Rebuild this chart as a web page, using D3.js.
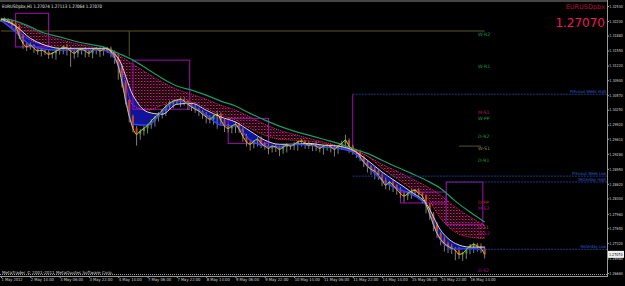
<!DOCTYPE html>
<html>
<head>
<meta charset="utf-8">
<script src="https://cdn.jsdelivr.net/npm/d3@7/dist/d3.min.js"></script>
<style>
  html, body { margin: 0; padding: 0; background: #000; }
  svg { display: block; }
  text { font-family: "DejaVu Sans", Tahoma, sans-serif; }
</style>
</head>
<body>
<svg id="chart" width="625" height="286"></svg>
<script>
// bar index 0 = 1 May 22:00, one label every 16 H1 bars (weekends skipped)
const dateLabels = ["1 May 2012", "2 May 14:00", "3 May 06:00", "3 May 22:00", "4 May 14:00",
  "7 May 06:00", "7 May 22:00", "8 May 14:00", "9 May 06:00", "9 May 22:00", "10 May 14:00",
  "11 May 06:00", "11 May 22:00", "14 May 14:00", "15 May 06:00", "15 May 22:00", "16 May 14:00"];

const priceTicks = [1.3253, 1.3220, 1.3188, 1.3155, 1.3122, 1.3090, 1.3057, 1.3025, 1.2992,
  1.2961, 1.2928, 1.2895, 1.2862, 1.2830, 1.2796, 1.2765, 1.2732, 1.2698, 1.2666];
const priceLabels = ["1.32530", "1.32200", "1.31880", "1.31550", "1.31220", "1.30900", "1.30570",
  "1.30250", "1.29920", "1.29610", "1.29280", "1.28950", "1.28620", "1.28300", "1.27960",
  "1.27650", "1.27320", "1.26980", "1.26660"];

// closes every 2nd bar (bar 0, 2, 4 ... 264)
const closes = [
  1.3222, 1.3224, 1.3220, 1.3215, 1.3209, 1.3187, 1.3171, 1.3163, 1.3167, 1.3160,
  1.3154, 1.3156, 1.3152, 1.3147, 1.3149, 1.3154, 1.3158, 1.3163, 1.3160, 1.3154,
  1.3149, 1.3156, 1.3158, 1.3154, 1.3149, 1.3156, 1.3160, 1.3154, 1.3158, 1.3160,
  1.3152, 1.3141, 1.3121, 1.3086, 1.3046, 1.3011, 1.2984, 1.2971, 1.2978, 1.2984,
  1.2991, 1.3000, 1.3009, 1.3015, 1.3024, 1.3033, 1.3039, 1.3044, 1.3046, 1.3048,
  1.3044, 1.3037, 1.3031, 1.3026, 1.3022, 1.3015, 1.3009, 1.3004, 1.3011, 1.3015,
  1.3002, 1.2989, 1.2984, 1.2989, 1.2993, 1.2982, 1.2967, 1.2954, 1.2949, 1.2956,
  1.2960, 1.2951, 1.2945, 1.2940, 1.2945, 1.2943, 1.2938, 1.2943, 1.2947, 1.2945,
  1.2949, 1.2954, 1.2956, 1.2951, 1.2947, 1.2949, 1.2945, 1.2940, 1.2945, 1.2947,
  1.2943, 1.2938, 1.2945, 1.2951, 1.2958, 1.2945, 1.2936, 1.2932, 1.2921, 1.2910,
  1.2901, 1.2894, 1.2890, 1.2881, 1.2870, 1.2859, 1.2866, 1.2859, 1.2850, 1.2841,
  1.2835, 1.2841, 1.2846, 1.2848, 1.2841, 1.2835, 1.2817, 1.2795, 1.2773, 1.2753,
  1.2740, 1.2731, 1.2725, 1.2720, 1.2716, 1.2707, 1.2709, 1.2718, 1.2725, 1.2729,
  1.2725, 1.2720, 1.2707];
// wick lengths in pips
const wickUp = [
  3, 4, 2, 3, 5, 2, 4, 3, 6, 2, 3, 4, 2, 5, 3, 4, 2, 3, 6, 3,
  4, 2, 3, 5, 2, 4, 3, 2, 5, 3, 4, 3, 8, 4, 3, 2, 3, 5, 4, 6,
  3, 4, 2, 5, 3, 4, 6, 3, 2, 4, 5, 3, 4, 6, 3, 2, 5, 4, 3, 8,
  4, 3, 5, 2, 6, 3, 4, 5, 3, 2, 4, 6, 3, 5, 2, 4, 3, 6, 4, 3,
  5, 3, 4, 2, 6, 3, 5, 4, 3, 2, 4, 5, 3, 6, 12, 4, 3, 2, 5, 3,
  4, 2, 5, 3, 4, 6, 3, 4, 2, 5, 3, 4, 6, 3, 5, 2, 4, 3, 5, 4,
  3, 6, 4, 5, 3, 7, 4, 3, 5, 4, 3, 6, 4];
const wickDown = [
  4, 6, 5, 8, 10, 7, 12, 9, 6, 10, 8, 12, 7, 10, 9, 14, 8, 11, 16, 35,
  12, 9, 10, 14, 8, 11, 9, 13, 10, 8, 12, 15, 30, 12, 10, 14, 9, 25, 12, 10,
  11, 8, 12, 10, 9, 13, 8, 11, 7, 15, 10, 12, 9, 8, 11, 10, 14, 9, 12, 28,
  10, 13, 9, 11, 15, 8, 12, 10, 14, 9, 12, 10, 8, 13, 9, 11, 15, 10, 12, 8,
  9, 14, 10, 12, 8, 13, 11, 9, 14, 10, 12, 16, 10, 8, 12, 15, 10, 13, 9, 11,
  14, 12, 18, 10, 13, 9, 11, 15, 12, 10, 14, 9, 12, 10, 13, 16, 20, 12, 15, 10,
  13, 18, 15, 12, 22, 10, 14, 12, 11, 15, 12, 10, 9];

// moving averages read every 8th bar (bar 0, 8 ... 264)
const maGreen = [1.3226, 1.3220, 1.3207, 1.3193, 1.3185, 1.3176, 1.3169, 1.3163, 1.3149, 1.3134,
  1.3114, 1.3094, 1.3077, 1.3068, 1.3057, 1.3044, 1.3033, 1.3017, 1.3002, 1.2989,
  1.2978, 1.2969, 1.2960, 1.2951, 1.2940, 1.2929, 1.2914, 1.2899, 1.2885, 1.2870,
  1.2852, 1.2824, 1.2800, 1.2778];
const maPinkTop = [1.3224, 1.3218, 1.3204, 1.3189, 1.3180, 1.3171, 1.3165, 1.3156, 1.3145, 1.3125,
  1.3105, 1.3086, 1.3070, 1.3059, 1.3048, 1.3035, 1.3024, 1.3009, 1.2993, 1.2980,
  1.2971, 1.2962, 1.2954, 1.2945, 1.2934, 1.2923, 1.2905, 1.2890, 1.2874, 1.2857,
  1.2837, 1.2811, 1.2789, 1.2771];
const maPinkBottom = [1.3220, 1.3200, 1.3178, 1.3167, 1.3160, 1.3158, 1.3158, 1.3158, 1.3138, 1.3035,
  1.3024, 1.3035, 1.3044, 1.3042, 1.3028, 1.3013, 1.3002, 1.2984, 1.2969, 1.2960,
  1.2958, 1.2956, 1.2951, 1.2945, 1.2938, 1.2923, 1.2896, 1.2874, 1.2852, 1.2835,
  1.2786, 1.2756, 1.2745, 1.2742];
const maWhite = [1.3224, 1.3209, 1.3182, 1.3167, 1.3160, 1.3160, 1.3160, 1.3160, 1.3138, 1.3057,
  1.3020, 1.3015, 1.3037, 1.3039, 1.3024, 1.3009, 1.2998, 1.2978, 1.2958, 1.2949,
  1.2949, 1.2951, 1.2947, 1.2945, 1.2936, 1.2914, 1.2888, 1.2866, 1.2844, 1.2819,
  1.2760, 1.2731, 1.2723, 1.2723];
const maBlue = [1.3222, 1.3196, 1.3167, 1.3158, 1.3156, 1.3156, 1.3156, 1.3156, 1.3123, 1.2993,
  1.2991, 1.3020, 1.3046, 1.3033, 1.3013, 1.2991, 1.2989, 1.2958, 1.2945, 1.2943,
  1.2949, 1.2947, 1.2943, 1.2940, 1.2932, 1.2901, 1.2870, 1.2852, 1.2839, 1.2815,
  1.2738, 1.2718, 1.2720, 1.2716];

// pivot labels: name, price, colour
const pivotNames = ["W-R2", "W-R1", "M-S1", "W-PP", "D-R2", "W-S1", "D-R1", "D-PP", "M-S2", "D-S1", "W-S2", "D-S2"];
const pivotPrices = [1.3191, 1.3121, 1.3020, 1.3006, 1.2967, 1.2940, 1.2914, 1.2822, 1.2808, 1.2766, 1.2753, 1.2672];
const pivotColors = ["#1f9a52", "#1f9a52", "#c0106a", "#1f9a52", "#1f9a52", "#8c8c3c", "#1f9a52",
  "#c03030", "#b01080", "#d04080", "#b01080", "#b01080"];

// level lines from a start bar to the right edge
const levelNames = ["Previous Week High", "Previous Week Low", "Yesterday High", "Yesterday Low"];
const levelPrices = [1.3059, 1.2879, 1.2866, 1.2718];
const levelStart = [192, 192, 243, 243];

// olive lines: start bar, end bar, price from, price to
const oliveX0 = [0, 70, 250];
const oliveX1 = [264, 70, 262];
const oliveP0 = [1.3198, 1.3198, 1.2945];
const oliveP1 = [1.3198, 1.3142, 1.2945];

// magenta range boxes: start bar, end bar, top, bottom
const boxStart = [8, 72, 124, 218, 243];
const boxEnd = [26, 103, 146, 243, 263];
const boxTop = [1.3237, 1.3134, 1.3006, 1.2844, 1.2866];
const boxBottom = [1.3163, 1.3026, 1.2951, 1.2820, 1.2773];
// single magenta marker at the week change: bar, top, bottom
const weekMarkBar = [192];
const weekMarkTop = [1.3059];
const weekMarkBottom = [1.2940];

const lastPrice = 1.2707;

const svg = d3.select("#chart");
const plotRight = 607, plotBottom = 276;

const x = d3.scaleLinear().domain([0, 256]).range([1, 470]);
const y = d3.scaleLinear().domain([1.2666, 1.3253]).range([273, 6]);

const defs = svg.append("defs");
const pat = defs.append("pattern").attr("id", "pinkDots")
  .attr("width", 3).attr("height", 3).attr("patternUnits", "userSpaceOnUse");
pat.append("rect").attr("x", 0).attr("y", 0).attr("width", 1.5).attr("height", 1).attr("fill", "#d8108e");
pat.append("rect").attr("x", 1.5).attr("y", 1.5).attr("width", 1).attr("height", 1).attr("fill", "#d02838");

svg.append("clipPath").attr("id", "plot").append("rect")
  .attr("x", 0).attr("y", 1).attr("width", plotRight).attr("height", plotBottom - 1);
const g = svg.append("g").attr("clip-path", "url(#plot)");

const maBars = maGreen.map((d, i) => i * 8);
const closeBars = closes.map((d, i) => i * 2);

// olive lines
g.selectAll(".olive").data(oliveX0).enter().append("line")
  .attr("x1", d => x(d)).attr("x2", (d, i) => x(oliveX1[i]))
  .attr("y1", (d, i) => y(oliveP0[i])).attr("y2", (d, i) => y(oliveP1[i]))
  .attr("stroke", "#55552a").attr("stroke-width", 1);

// pink ribbon
g.append("path")
  .datum(maBars)
  .attr("fill", "url(#pinkDots)")
  .attr("d", d3.area().curve(d3.curveMonotoneX)
    .x(b => x(b)).y0((b, i) => y(maPinkBottom[i])).y1((b, i) => y(maPinkTop[i])));

// blue ribbon
g.append("path")
  .datum(maBars)
  .attr("fill", "#1418b4").attr("opacity", 0.85)
  .attr("d", d3.area().curve(d3.curveMonotoneX)
    .x(b => x(b)).y0((b, i) => y(maBlue[i])).y1((b, i) => y(maWhite[i])));

// boxes
g.selectAll(".box").data(boxStart).enter().append("rect")
  .attr("x", (d, i) => x(d)).attr("y", (d, i) => y(boxTop[i]))
  .attr("width", (d, i) => x(boxEnd[i]) - x(d))
  .attr("height", (d, i) => y(boxBottom[i]) - y(boxTop[i]))
  .attr("fill", "none").attr("stroke", "#a010b0").attr("stroke-width", 1);
g.selectAll(".wk").data(weekMarkBar).enter().append("line")
  .attr("x1", d => x(d)).attr("x2", d => x(d))
  .attr("y1", (d, i) => y(weekMarkTop[i])).attr("y2", (d, i) => y(weekMarkBottom[i]))
  .attr("stroke", "#a010b0").attr("stroke-width", 1);

// candles
const candles = g.selectAll(".candle").data(closeBars).enter().append("g");
candles.append("line")
  .attr("x1", b => x(b)).attr("x2", b => x(b))
  .attr("y1", (b, i) => y(Math.max(closes[Math.max(i - 1, 0)], closes[i]) + wickUp[i] * 0.0001))
  .attr("y2", (b, i) => y(Math.min(closes[Math.max(i - 1, 0)], closes[i]) - wickDown[i] * 0.0001))
  .attr("stroke", "#7c7c7c").attr("stroke-width", 1);
candles.append("rect")
  .attr("x", b => x(b) - 1)
  .attr("y", (b, i) => y(Math.max(closes[Math.max(i - 1, 0)], closes[i])))
  .attr("width", 2)
  .attr("height", (b, i) => Math.max(1, Math.abs(y(closes[Math.max(i - 1, 0)]) - y(closes[i]))))
  .attr("fill", (b, i) => closes[i] >= closes[Math.max(i - 1, 0)] ? "#3aa040" : "#d04020");

const maLine = arr => d3.line().curve(d3.curveMonotoneX).x(b => x(b)).y((b, i) => y(arr[i]));
g.append("path").datum(maBars).attr("d", maLine(maPinkTop))
  .attr("fill", "none").attr("stroke", "#e01888").attr("stroke-dasharray", "1,1");
g.append("path").datum(maBars).attr("d", maLine(maPinkBottom))
  .attr("fill", "none").attr("stroke", "#ff3050").attr("stroke-dasharray", "1,1");
g.append("path").datum(maBars).attr("d", maLine(maGreen))
  .attr("fill", "none").attr("stroke", "#1a9c64").attr("stroke-width", 1.2);
g.append("path").datum(maBars).attr("d", maLine(maWhite))
  .attr("fill", "none").attr("stroke", "#d8d8d8").attr("stroke-width", 1);
g.append("path").datum(maBars).attr("d", maLine(maBlue))
  .attr("fill", "none").attr("stroke", "#3048ff").attr("stroke-width", 1.4);
g.append("path").datum(closeBars).attr("d", maLine(closes))
  .attr("fill", "none").attr("stroke", "#d8c830").attr("stroke-width", 1);

// level lines + labels
g.selectAll(".lvl").data(levelPrices).enter().append("line")
  .attr("x1", (d, i) => x(levelStart[i])).attr("x2", plotRight)
  .attr("y1", d => y(d)).attr("y2", d => y(d))
  .attr("stroke", "#23358c").attr("stroke-width", 1).attr("stroke-dasharray", "2,1");
g.selectAll(".lvlText").data(levelPrices).enter().append("text")
  .attr("x", plotRight - 1).attr("y", d => y(d) - 1.5)
  .attr("text-anchor", "end").attr("font-size", 4.3).attr("fill", "#3a5ad0")
  .attr("textLength", (d, i) => levelNames[i].length * 2).attr("lengthAdjust", "spacingAndGlyphs")
  .text((d, i) => levelNames[i]);

// pivot labels
g.selectAll(".piv").data(pivotPrices).enter().append("text")
  .attr("x", 478).attr("y", d => y(d) + 1.8)
  .attr("font-size", 4.6).attr("fill", (d, i) => pivotColors[i])
  .text((d, i) => pivotNames[i]);

// frame
svg.append("line").attr("x1", 0).attr("x2", plotRight).attr("y1", 1).attr("y2", 1)
  .attr("stroke", "#8a8a8a");
svg.append("line").attr("x1", 0).attr("x2", plotRight).attr("y1", plotBottom - 1.5).attr("y2", plotBottom - 1.5)
  .attr("stroke", "#9a9a9a").attr("stroke-dasharray", "1,1");

// right axis
const yAxis = svg.append("g").attr("transform", `translate(${plotRight},0)`)
  .call(d3.axisRight(y).tickValues(priceTicks).tickFormat((d, i) => priceLabels[i]).tickSize(2).tickPadding(0.3));
yAxis.select(".domain").attr("stroke", "#9a9a9a").attr("d", `M0.5,0V${plotBottom + 1}`);
yAxis.selectAll("line").attr("stroke", "#9a9a9a");
yAxis.selectAll("text").attr("font-size", 4).attr("fill", "#d0d0d0").attr("font-family", "DejaVu Sans")
  .attr("textLength", 13.5).attr("lengthAdjust", "spacingAndGlyphs");

// bottom axis
const xAxis = svg.append("g").attr("transform", `translate(0,${plotBottom})`)
  .call(d3.axisBottom(x).tickValues(dateLabels.map((d, i) => i * 16)).tickFormat((d, i) => dateLabels[i]).tickSize(2).tickPadding(1));
xAxis.select(".domain").attr("stroke", "#9a9a9a").attr("d", `M0,0.5H${plotRight}`);
xAxis.selectAll("line").attr("stroke", "#9a9a9a");
xAxis.selectAll("text").attr("font-size", 4.2).attr("fill", "#d0d0d0")
  .attr("text-anchor", "start").attr("font-family", "DejaVu Sans").attr("dy", "0.55em")
  .attr("textLength", (d, i) => dateLabels[i].length * 2.1).attr("lengthAdjust", "spacingAndGlyphs");

// last price marker
svg.append("rect").attr("x", plotRight + 1).attr("y", y(lastPrice) - 3.5).attr("width", 16).attr("height", 7)
  .attr("fill", "#f0f0f0");
svg.append("text").attr("x", plotRight + 2).attr("y", y(lastPrice) + 1.6)
  .attr("font-size", 4).attr("fill", "#000")
  .attr("textLength", 13.5).attr("lengthAdjust", "spacingAndGlyphs").text("1.27070");

// header texts
svg.append("text").attr("x", 2).attr("y", 7.5).attr("font-size", 4.6).attr("fill", "#e8e8e8")
  .attr("textLength", 100).attr("lengthAdjust", "spacingAndGlyphs").text("EURUSDpbx,H1  1.27074 1.27113 1.27064 1.27070");
svg.append("text").attr("x", plotRight - 2).attr("y", 8.5).attr("text-anchor", "end")
  .attr("font-size", 6.5).attr("fill", "#b8103c").attr("font-family", "Liberation Sans").text("EURUSDpbx");
svg.append("text").attr("x", plotRight - 2).attr("y", 26.5).attr("text-anchor", "end")
  .attr("font-size", 12).attr("fill", "#f0185c").attr("font-family", "Liberation Sans").text("1.27070");
svg.append("text").attr("x", 2).attr("y", 274).attr("font-size", 4.2).attr("fill", "#d0d0d0")
  .attr("textLength", 111).attr("lengthAdjust", "spacingAndGlyphs").text("MetaTrader © 2001-2011 MetaQuotes Software Corp.");
</script>
</body>
</html>
